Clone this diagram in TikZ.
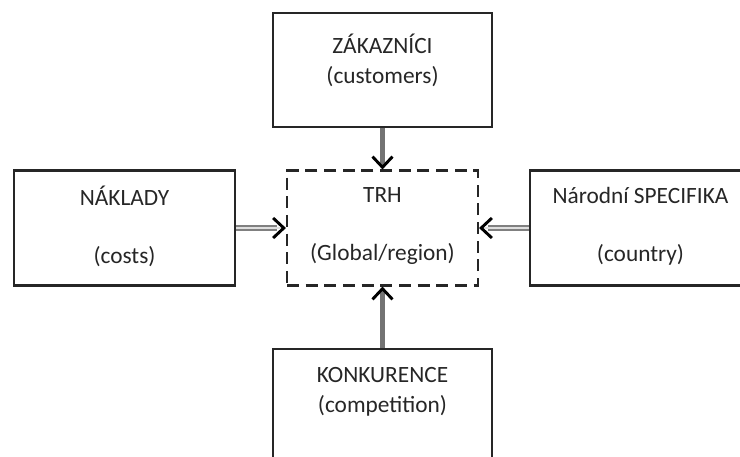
\documentclass[tikz,border=0pt]{standalone}
\usepackage{fontspec}
\setmainfont{Carlito}
\usetikzlibrary{arrows.meta}

\tikzset{barb/.tip={Straight Barb[color=black, length=8pt, width=15pt, line width=2.2pt]}}

\begin{document}
\begin{tikzpicture}[x=0.75pt, y=-0.75pt,
    box/.style={draw=black!85, line width=1.8pt, inner sep=0pt},
    trhbox/.style={draw=black!85, line width=1.6pt, dash pattern=on 9pt off 5pt, inner sep=0pt},
    txt/.style={align=center, text=black!85, font=\fontsize{17.5}{22.5}\selectfont},
    vshaft/.style={draw=black!55, line width=3.8pt, -{barb}},
    hshaft/.style={draw=gray, line width=5pt, shorten >=7pt},
    hcore/.style={draw=gray!25, line width=1.8pt, -{barb}}]
  \useasboundingbox (0,0) rectangle (740,457);

  % Boxes
  \node [box, minimum width=164pt, minimum height=85.5pt] (zakaznici) at (382.5,70) {};
  \node [box, minimum width=165.75pt, minimum height=86.25pt] (naklady) at (124.5,228) {};
  \node [box, minimum width=165.75pt, minimum height=86.25pt] (narodni) at (640.5,228) {};
  \node [box, minimum width=164pt, minimum height=90.75pt] (konkurence) at (382.5,409.5) {};
  \node [trhbox, minimum width=143.25pt, minimum height=86.25pt] (trh) at (382.5,228) {};

  % Texts
  \node [txt] (zakaznicitxt) at (382.5,60) {ZÁKAZNÍCI\\(customers)};
  \node [txt] (nakladytxt) at (124.5,226) {NÁKLADY\\[21pt](costs)};
  \node [txt] (trhtxt) at (382.5,226) {TRH\\[21pt](Global/region)};
  \node [txt] (narodnitxt) at (640.5,226) {Národní SPECIFIKA\\[21pt](country)};
  \node [txt] (konkurencetxt) at (382.5,392) {KONKURENCE\\(competition)};

  % Arrows into the market
  \draw [vshaft] (zakaznici) -- (trh);
  \draw [vshaft] (konkurence) -- (trh);
  \foreach \src in {naklady, narodni} {
    \draw [hshaft] (\src) -- (trh);
    \draw [hcore] (\src) -- (trh);
  }
\end{tikzpicture}
\end{document}
